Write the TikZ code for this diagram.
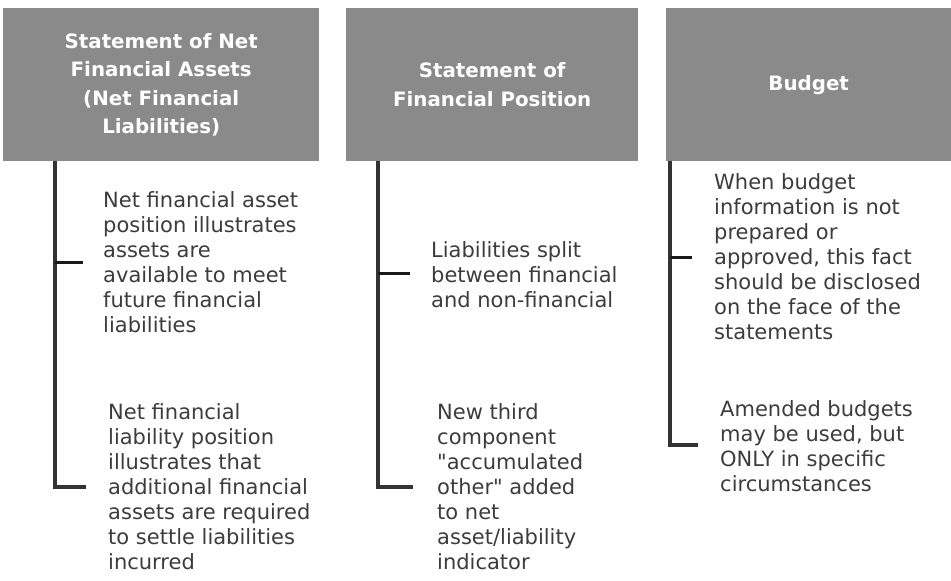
\documentclass[tikz,border=0pt]{standalone}
\usepackage{fontspec}
\setmainfont{DejaVu Sans}
\newfontfamily\plainfont{DejaVu Sans}
\definecolor{headgray}{HTML}{8A8A8A}
\definecolor{bodygray}{HTML}{3C3C3C}
\definecolor{stemgray}{HTML}{333333}
\newcommand{\dq}{{\plainfont"}}
\begin{document}
\begin{tikzpicture}[x=1pt,y=-1pt,
  head/.style={fill=headgray, text=white, font=\fontsize{19.8}{28.5}\selectfont\bfseries, align=center, inner sep=0pt, anchor=north west},
  body/.style={text=bodygray, font=\fontsize{21}{25}\selectfont, align=left, inner sep=0pt, anchor=west},
  stem/.style={draw=stemgray, line width=3.5pt},
  tick/.style={draw=black!90, line width=3pt}]
\useasboundingbox (0,0) rectangle (951,581);
% headers
\node[head, minimum width=316pt, minimum height=153pt] (h1) at (3,8) {Statement of Net\\Financial Assets\\ (Net Financial\\Liabilities)};
\node[head, minimum width=292pt, minimum height=153pt] (h2) at (346,8) {Statement of\\Financial Position};
\node[head, minimum width=285pt, minimum height=153pt] (h3) at (666,8) {Budget};
% body texts
\node[body] (b1a) at (103,262) {Net financial asset\\position illustrates\\assets are\\available to meet\\future financial\\liabilities};
\node[body] (b1b) at (108,487) {Net financial\\liability position\\illustrates that\\additional financial\\assets are required\\to settle liabilities\\incurred};
\node[body] (b2a) at (431,275) {Liabilities split\\between financial\\and non-financial};
\node[body] (b2b) at (437,487) {New third\\component\\\dq accumulated\\other\dq{} added\\to net\\asset/liability\\indicator};
\node[body] (b3a) at (714,257) {When budget\\information is not\\prepared or\\approved, this fact\\should be disclosed\\on the face of the\\statements};
\node[body] (b3b) at (720,446) {Amended budgets\\may be used, but\\ONLY in specific\\circumstances};
% stem coordinates
\coordinate (k1a) at (55,262); \coordinate (e1a) at (83,262);
\coordinate (k1b) at (55,487); \coordinate (e1b) at (86,487);
\coordinate (k2a) at (378,273); \coordinate (e2a) at (410,273);
\coordinate (k2b) at (378,487); \coordinate (e2b) at (413,487);
\coordinate (k3a) at (670,257); \coordinate (e3a) at (692,257);
\coordinate (k3b) at (670,445); \coordinate (e3b) at (698,445);
% connectors
\draw[stem] (h1.south -| k1b) -- (k1b) -- (e1b);
\draw[tick] (k1a) -- (e1a);
\draw[stem] (h2.south -| k2b) -- (k2b) -- (e2b);
\draw[tick] (k2a) -- (e2a);
\draw[stem] (h3.south -| k3b) -- (k3b) -- (e3b);
\draw[tick] (k3a) -- (e3a);
\end{tikzpicture}
\end{document}
